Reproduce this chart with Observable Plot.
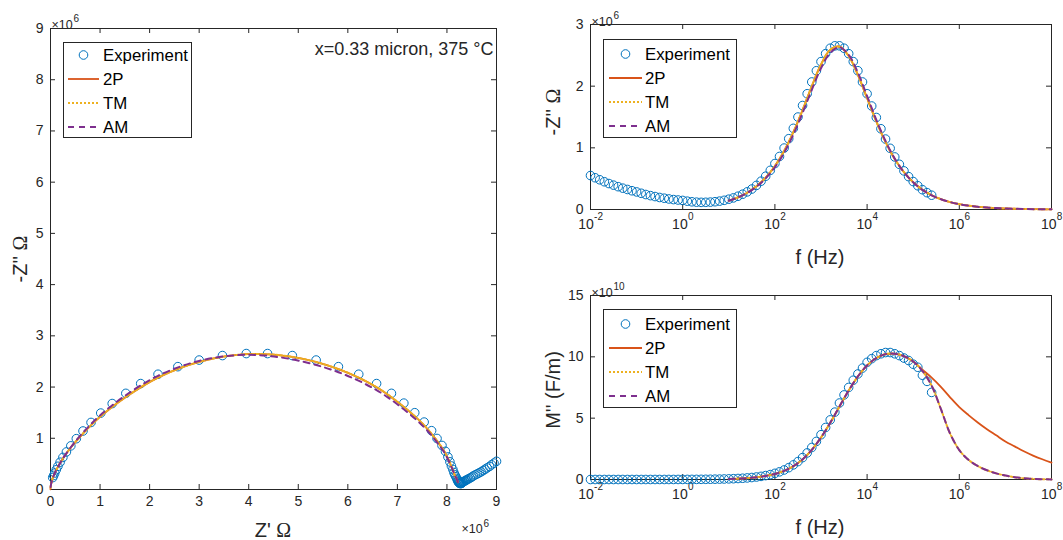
<!DOCTYPE html>
<html><head><meta charset="utf-8">
<script src="https://cdn.jsdelivr.net/npm/d3@7"></script>
<script src="https://cdn.jsdelivr.net/npm/@observablehq/plot@0.6"></script>
<style>
html,body{margin:0;padding:0;background:#fff;}
#wrap{position:relative;width:1063px;height:540px;overflow:hidden;font-family:"Liberation Sans",Arial,Helvetica,sans-serif;color:#262626;}
.pnl{position:absolute;}
.lab{position:absolute;white-space:nowrap;line-height:1;font-size:20px;color:#262626;transform:translate(-50%,-50%);}
.lab.rot{transform:translate(-50%,-50%) rotate(-90deg);}
.om{font-family:"Liberation Serif","Times New Roman",serif;}
</style></head><body><div id="wrap"></div>
<script>
// ---------------- data ----------------
const seriesNames = ["Experiment", "2P", "TM", "AM"];
// experiment: log10 of frequency (Hz)
const expLogF = [-2.0,-1.9,-1.8,-1.7,-1.6,-1.5,-1.4,-1.3,-1.2,-1.1,
 -1.0,-0.9,-0.8,-0.7,-0.6,-0.5,-0.4,-0.3,-0.2,-0.1,
 0.0,0.1,0.2,0.3,0.4,0.5,0.6,0.7,0.8,0.9,
 1.0,1.1,1.2,1.3,1.4,1.5,1.6,1.7,1.8,1.9,
 2.0,2.1,2.2,2.3,2.4,2.5,2.6,2.7,2.8,2.9,
 3.0,3.1,3.2,3.3,3.4,3.5,3.6,3.7,3.8,3.9,
 4.0,4.1,4.2,4.3,4.4,4.5,4.6,4.7,4.8,4.9,
 5.0,5.1,5.2,5.3,5.4];
// Z' (x1e6 ohm)
const expZre = [9.00,8.95,8.90,8.86,8.81,8.77,8.73,8.69,8.65,8.61,
 8.57,8.53,8.50,8.47,8.44,8.41,8.39,8.37,8.35,8.33,
 8.32,8.31,8.30,8.29,8.28,8.27,8.26,8.25,8.24,8.23,
 8.22,8.21,8.20,8.18,8.16,8.14,8.12,8.09,8.06,8.02,
 7.97,7.90,7.80,7.69,7.54,7.35,7.13,6.88,6.58,6.22,
 5.81,5.36,4.88,4.38,3.95,3.47,3.00,2.57,2.17,1.82,
 1.52,1.245,1.014,0.818,0.656,0.521,0.410,0.321,0.250,0.194,
 0.150,0.116,0.085,0.064,0.045];
// -Z'' (x1e6 ohm)
const expZim = [0.551,0.515,0.482,0.450,0.421,0.395,0.370,0.346,0.325,0.304,
 0.285,0.263,0.243,0.225,0.210,0.195,0.183,0.171,0.161,0.154,
 0.147,0.135,0.125,0.119,0.116,0.117,0.120,0.126,0.136,0.149,
 0.167,0.188,0.215,0.248,0.286,0.332,0.391,0.459,0.540,0.635,
 0.745,0.860,0.996,1.148,1.316,1.499,1.686,1.877,2.068,2.250,
 2.398,2.527,2.615,2.654,2.654,2.615,2.527,2.398,2.250,2.068,
 1.877,1.678,1.492,1.309,1.142,0.992,0.852,0.733,0.626,0.533,
 0.453,0.385,0.321,0.273,0.232];
// M'' (x1e10 F/m)
const expM = [0.0001,0.0001,0.0001,0.0001,0.0001,0.0002,0.0002,0.0003,0.0003,0.0004,
 0.0005,0.0007,0.0008,0.0011,0.0013,0.0017,0.0021,0.0026,0.0033,0.0042,
 0.0052,0.0066,0.0083,0.0104,0.0131,0.0164,0.0207,0.0260,0.0327,0.0411,
 0.0516,0.0650,0.0817,0.1025,0.1288,0.1617,0.2031,0.2548,0.3195,0.4003,
 0.501,0.625,0.777,0.964,1.190,1.460,1.784,2.166,2.609,3.104,
 3.650,4.240,4.859,5.491,6.234,6.894,7.504,8.093,8.603,9.083,
 9.550,9.85,10.10,10.25,10.35,10.35,10.25,10.10,9.90,9.70,
 9.40,9.15,8.50,8.00,7.10];

// fitted models: log10 frequency grid
const modLogF = [1.0,1.2,1.4,1.6,1.8,2.0,2.2,2.4,2.6,2.8,
 3.0,3.2,3.4,3.6,3.8,4.0,4.2,4.4,4.6,4.8,
 5.0,5.2,5.4,5.6,5.8,6.0,6.2,6.4,6.6,6.8,
 7.0,7.2,7.4,7.6,7.8,8.0];
const modZre = [8.22,8.20,8.16,8.12,8.06,7.97,7.80,7.54,7.13,6.58,
 5.81,4.88,3.95,3.00,2.17,1.52,1.01,0.655,0.41,0.25,
 0.15,0.085,0.048,0.027,0.015,0.008,0.0045,0.0025,0.0014,0.0008,
 0.0005,0.0003,0.0002,0.0001,0.0001,0.0];
const zim2P = [0.142,0.197,0.273,0.377,0.517,0.705,0.949,1.253,1.613,1.998,
 2.351,2.589,2.641,2.490,2.184,1.805,1.428,1.093,0.819,0.605,
 0.442,0.321,0.232,0.167,0.120,0.086,0.062,0.044,0.032,0.023,
 0.016,0.012,0.008,0.006,0.004,0.003];
const zimTM = [0.142,0.197,0.273,0.377,0.517,0.705,0.949,1.253,1.613,1.998,
 2.351,2.589,2.641,2.490,2.184,1.805,1.428,1.093,0.819,0.605,
 0.442,0.321,0.232,0.167,0.120,0.086,0.062,0.044,0.032,0.023,
 0.016,0.012,0.008,0.006,0.004,0.003];
const zimAM = [0.142,0.197,0.270,0.370,0.505,0.685,0.920,1.215,1.565,1.940,
 2.290,2.540,2.630,2.510,2.220,1.840,1.455,1.110,0.825,0.605,
 0.440,0.318,0.228,0.167,0.120,0.086,0.062,0.044,0.032,0.023,
 0.016,0.012,0.008,0.006,0.004,0.003];
const m2P = [0.045,0.072,0.114,0.181,0.287,0.452,0.705,1.085,1.64,2.42,
 3.42,4.62,5.95,7.25,8.40,9.30,9.90,10.22,10.25,10.05,
 9.62,8.95,8.30,7.55,6.70,5.90,5.25,4.65,4.10,3.60,
 3.10,2.70,2.30,1.95,1.65,1.38];
const mTM = [0.045,0.072,0.114,0.181,0.287,0.452,0.705,1.085,1.64,2.42,
 3.42,4.62,5.95,7.25,8.40,9.30,9.90,10.22,10.25,10.05,
 9.62,8.85,7.65,5.75,3.75,2.40,1.60,1.10,0.75,0.50,
 0.32,0.19,0.10,0.05,0.02,0.01];
const mAM = [0.045,0.072,0.114,0.181,0.287,0.452,0.705,1.085,1.64,2.42,
 3.42,4.62,5.95,7.25,8.40,9.30,9.90,10.22,10.25,10.05,
 9.62,8.85,7.65,5.75,3.75,2.40,1.60,1.10,0.75,0.50,
 0.32,0.19,0.10,0.05,0.02,0.01];

// tick labels
const nyqTicks = [0,1,2,3,4,5,6,7,8,9];
const freqTicks = [1e-2,1e0,1e2,1e4,1e6,1e8];
const freqTickExp = ["-2","0","2","4","6","8"];
const zimTicks = [0,1,2,3];
const mTicks = [0,5,10,15];

// ---------------- build ----------------
const AX = "#262626";
const FONT = "'Liberation Sans', Arial, Helvetica, sans-serif";
const COL = {"Experiment":"#0072BD","2P":"#D95319","TM":"#EDB120","AM":"#7E2F8E"};
const LINE = {
  "2P": {stroke: COL["2P"], strokeWidth: 1.8},
  "TM": {stroke: COL["TM"], strokeWidth: 2, strokeDasharray: "2,2"},
  "AM": {stroke: COL["AM"], strokeWidth: 2, strokeDasharray: "6,5"}
};
const exp = expLogF.map((e, i) => ({f: 10 ** e, zre: expZre[i], zim: expZim[i], m: expM[i]}));
function modelRows(zimArr, mArr) {
  return modLogF.map((e, i) => ({f: 10 ** e, zre: modZre[i], zim: zimArr[i], m: mArr[i]}));
}
const models = {"2P": modelRows(zim2P, m2P), "TM": modelRows(zimTM, mTM), "AM": modelRows(zimAM, mAM)};

function frameTicks(xt, yt, fw, fh, len) {
  return [
    Plot.frame({stroke: AX, strokeWidth: 1}),
    Plot.tickX(xt, {x: d => d, insetTop: fh - len, stroke: AX, strokeWidth: 1}),
    Plot.tickX(xt, {x: d => d, insetBottom: fh - len, stroke: AX, strokeWidth: 1}),
    Plot.tickY(yt, {y: d => d, insetRight: fw - len, stroke: AX, strokeWidth: 1}),
    Plot.tickY(yt, {y: d => d, insetLeft: fw - len, stroke: AX, strokeWidth: 1})
  ];
}
function yLabels(yt) {
  return Plot.text(yt, {y: d => d, text: d => String(d), frameAnchor: "left", dx: -7, textAnchor: "end", fontSize: 14, fill: AX});
}
function logXLabels() {
  const out = [];
  freqTicks.forEach((t, i) => {
    const ex = freqTickExp[i];
    const ew = ex.length === 2 ? 9 : 5.6;
    const total = 15.6 + ew;
    const baseEnd = -total / 2 + 15.6;
    out.push(Plot.text([t], {x: d => d, text: () => "10", frameAnchor: "bottom", dy: 19, dx: baseEnd, textAnchor: "end", fontSize: 14, fill: AX}));
    out.push(Plot.text([t], {x: d => d, text: () => ex, frameAnchor: "bottom", dy: 10, dx: baseEnd + 0.3, textAnchor: "start", fontSize: 10, fill: AX}));
  });
  return out;
}
function expoMark(anchor, dx, dy, sup) {
  return [
    Plot.text(["\u00d710"], {text: d => d, frameAnchor: anchor, dx: dx, dy: dy, textAnchor: "start", fontSize: 12.5, fill: AX}),
    Plot.text([sup], {text: d => d, frameAnchor: anchor, dx: dx + 22, dy: dy - 6, textAnchor: "start", fontSize: 10, fill: AX})
  ];
}
function lineMarks(xk, yk, xcurve) {
  return ["2P", "TM", "AM"].map(n => Plot.line(models[n], {x: xk, y: yk, ...LINE[n], curve: xcurve}));
}
const baseStyle = {fontFamily: FONT, background: "transparent", overflow: "visible"};

const wrap = document.getElementById("wrap");
function place(el, left, top) {
  const d = document.createElement("div");
  d.className = "pnl"; d.style.left = left + "px"; d.style.top = top + "px";
  d.appendChild(el); wrap.appendChild(d);
}

// Nyquist panel
place(Plot.plot({
  width: 540, height: 540, marginLeft: 50, marginRight: 44, marginTop: 28, marginBottom: 51,
  x: {domain: [0, 9], axis: null}, y: {domain: [0, 9], axis: null},
  style: baseStyle,
  marks: [
    ...frameTicks(nyqTicks, nyqTicks, 446, 461, 5),
    Plot.text(nyqTicks, {x: d => d, text: d => String(d), frameAnchor: "bottom", dy: 16, fontSize: 14, fill: AX}),
    yLabels(nyqTicks),
    ...expoMark("top-left", 1, -8, "6"),
    ...expoMark("bottom-right", -35, 43, "6"),
    Plot.text(["x=0.33 micron, 375 \u00b0C"], {text: d => d, frameAnchor: "top-right", dx: -3, dy: 14, textAnchor: "end", fontSize: 18, fill: AX}),
    Plot.dot(exp, {x: "zre", y: "zim", r: 4.3, stroke: COL["Experiment"], strokeWidth: 1}),
    ...lineMarks("zre", "zim", "catmull-rom")
  ]
}), 0, 0);

// -Z'' vs f
place(Plot.plot({
  width: 523, height: 270, marginLeft: 50, marginRight: 12, marginTop: 24, marginBottom: 61,
  x: {type: "log", domain: [1e-2, 1e8], axis: null}, y: {domain: [0, 3], axis: null},
  style: baseStyle,
  marks: [
    ...frameTicks(freqTicks, zimTicks, 461, 185, 5),
    ...logXLabels(),
    yLabels(zimTicks),
    ...expoMark("top-left", 1, -7, "6"),
    Plot.dot(exp, {x: "f", y: "zim", r: 4.3, stroke: COL["Experiment"], strokeWidth: 1}),
    ...lineMarks("f", "zim", "catmull-rom")
  ]
}), 540, 0);

// M'' vs f
place(Plot.plot({
  width: 523, height: 270, marginLeft: 50, marginRight: 12, marginTop: 25, marginBottom: 61,
  x: {type: "log", domain: [1e-2, 1e8], axis: null}, y: {domain: [0, 15], axis: null},
  style: baseStyle,
  marks: [
    ...frameTicks(freqTicks, mTicks, 461, 184, 5),
    ...logXLabels(),
    yLabels(mTicks),
    ...expoMark("top-left", 1, -7, "10"),
    Plot.dot(exp, {x: "f", y: "m", r: 4.3, stroke: COL["Experiment"], strokeWidth: 1}),
    ...lineMarks("f", "m", "catmull-rom")
  ]
}), 540, 270);

// axis titles
function lab(html, x, y, rot) {
  const d = document.createElement("div");
  d.className = "lab" + (rot ? " rot" : "");
  d.style.left = x + "px"; d.style.top = y + "px";
  d.innerHTML = html; wrap.appendChild(d);
}
lab("Z' <span class='om'>\u03a9</span>", 273, 530, false);
lab("-Z'' <span class='om'>\u03a9</span>", 20, 259, true);
lab("f (Hz)", 820, 257, false);
lab("f (Hz)", 820, 527, false);
lab("-Z'' <span class='om'>\u03a9</span>", 553, 112, true);
lab("M'' (F/m)", 553, 390, true);

// legends
const svg = d3.select(wrap).append("svg")
  .attr("width", 1063).attr("height", 540)
  .style("position", "absolute").style("left", 0).style("top", 0).style("pointer-events", "none");
function legend(box, rows, lx0, lx1, tx) {
  const g = svg.append("g");
  g.append("rect").attr("x", box[0]).attr("y", box[1]).attr("width", box[2] - box[0]).attr("height", box[3] - box[1])
    .attr("fill", "#fff").attr("stroke", AX).attr("stroke-width", 1);
  seriesNames.forEach((n, i) => {
    const y = rows[i];
    if (n === "Experiment") {
      g.append("circle").attr("cx", (lx0 + lx1) / 2).attr("cy", y).attr("r", 4.3)
        .attr("fill", "none").attr("stroke", COL[n]).attr("stroke-width", 1);
    } else {
      const s = LINE[n];
      g.append("line").attr("x1", lx0).attr("x2", lx1).attr("y1", y).attr("y2", y)
        .attr("stroke", s.stroke).attr("stroke-width", s.strokeWidth).attr("stroke-dasharray", s.strokeDasharray || null);
    }
    g.append("text").attr("x", tx).attr("y", y).attr("dominant-baseline", "central")
      .attr("font-family", FONT).attr("font-size", 16.8).attr("fill", "#000").text(n);
  });
}
legend([63.5, 42.5, 191.5, 137.5], [55, 79, 103, 127], 68, 99, 103);
legend([603.5, 39.5, 736.5, 137.5], [54, 78, 102, 126], 609, 642, 645);
legend([603.5, 309.5, 736.5, 407.5], [324, 348, 372, 396], 609, 642, 645);
</script></body></html>
